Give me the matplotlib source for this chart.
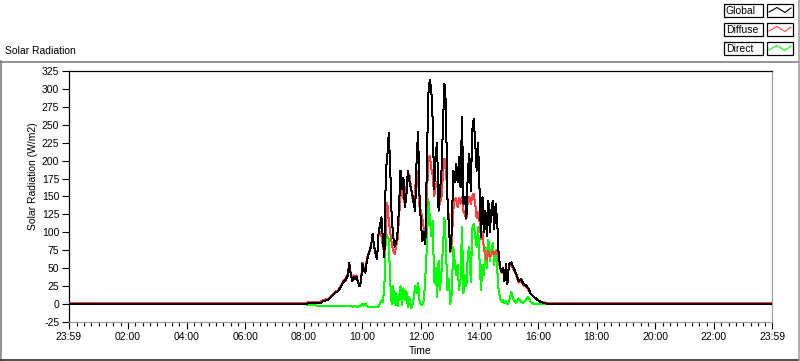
import matplotlib
matplotlib.use("Agg")
import matplotlib.pyplot as plt
from matplotlib.patches import Rectangle
from matplotlib.lines import Line2D
import numpy as np

plt.rcParams['font.family'] = ['Liberation Sans', 'DejaVu Sans']

# ---- data (minutes after midnight; -1 == 23:59 of previous day) ----
minutes = ([-1] + list(range(480, 570, 5)) + list(range(570, 901, 3))
           + list(range(905, 991, 5)) + [1439])

global_rad = ([0]
    + [0, 0.5, 1, 1, 1, 1, 1.5, 2, 4, 5, 6, 9, 13, 16, 18, 23, 30, 33]
    + [40, 57, 42, 32, 38, 35, 38, 30, 25, 30, 56, 48, 44, 60, 68, 74, 82, 98, 80, 70, 63, 98, 110, 121, 90, 65]
    + [186, 205, 238, 190, 120, 95, 80, 85, 100, 135, 186, 160, 176, 135, 150, 186, 172, 163, 154, 140, 130, 200, 240, 150, 110]
    + [88, 100, 84, 196, 293, 312, 300, 256, 160, 210, 224, 130, 158, 186, 250, 307, 280, 150, 110, 74, 100, 186, 170, 196, 170, 205]
    + [163, 261, 140, 150, 120, 186, 210, 158, 242, 258, 225, 186, 224, 160, 93, 149, 100, 130, 95, 144, 100, 130, 144, 105, 140, 116, 70, 52, 45, 50, 32, 56, 28, 55]
    + [58, 50, 42, 32, 35, 28, 26, 22, 14, 11, 8, 5, 3, 2, 1, 0.5, 0, 0]
    + [0])

diffuse_rad = ([1.5]
    + [1.5, 2, 2.5, 2.5, 2.5, 2.5, 3, 3.5, 5.5, 6.5, 7.5, 10.5, 14.5, 17.5, 19.5, 24.5, 31.5, 34.5]
    + [42, 58, 44, 34, 40, 37, 40, 32, 27, 32, 58, 50, 46, 62, 70, 76, 84, 95, 82, 72, 66, 96, 100, 95, 80, 70]
    + [100, 141, 116, 100, 85, 75, 70, 80, 90, 120, 150, 160, 148, 140, 163, 175, 182, 165, 150, 140, 160, 186, 175, 135, 130]
    + [118, 105, 98, 150, 200, 207, 190, 180, 150, 165, 170, 145, 140, 150, 180, 203, 190, 150, 120, 72, 85, 130, 145, 148, 135, 148]
    + [140, 150, 130, 125, 118, 145, 150, 140, 150, 154, 140, 120, 128, 115, 90, 100, 75, 70, 62, 74, 66, 68, 74, 70, 74, 72, 60, 50, 44, 48, 34, 52, 30, 52]
    + [55, 48, 40, 30, 32, 26, 24, 20, 14, 11, 8, 5, 3.5, 2.5, 2, 1.5, 1.5, 1.5]
    + [1.5])

direct_rad = ([0]
    + [0, -0.5, -1, -1.5, -1.5, -2, -2, -2, -2, -2.5, -2.5, -2.5, -3, -3, -3, -3, -3, -3]
    + [-3, -3, -3, -3.5, -3.5, -3, -3.5, -3.5, -3, -2, 0, -2, 1, -3, -4, -4, -4, -4, -3.5, -4, -4, -3, 0, 5, 3, 25]
    + [98, 95, 90, 30, 0, 25, -2, 15, -3, 10, 25, -2, 22, 5, 18, -4, 10, -5, -3, 8, 25, 15, 30, 5, -2]
    + [0, 5, 40, 78, 147, 120, 95, 116, 30, 50, 10, 60, 20, 45, 80, 120, 81, 20, 35, 0, 15, 80, 60, 40, 55, 20]
    + [35, 107, 15, 40, 25, 70, 80, 30, 106, 112, 95, 80, 107, 60, 20, 55, 40, 80, 50, 90, 60, 75, 85, 55, 75, 50, 20, 8, 3, 6, 1, 4, 0, 3]
    + [17, 5, 2, 8, 3, 2, 6, 10, 3, 0.5, 0, 0, 0, 0, 0, 0, 0, 0]
    + [0])

series_names = ['Global', 'Diffuse', 'Direct']
series_colors = ['#000000', '#ff4040', '#00ff00']

x_tick_minutes = [-1, 120, 240, 360, 480, 600, 720, 840, 960, 1080, 1200, 1320, 1439]
x_tick_labels = ['23:59', '02:00', '04:00', '06:00', '08:00', '10:00', '12:00',
                 '14:00', '16:00', '18:00', '20:00', '22:00', '23:59']
y_ticks = list(range(-25, 326, 25))

# ---- figure ----
W, H = 800, 361
fig = plt.figure(figsize=(W / 100, H / 100), dpi=100)
fig.patch.set_facecolor('white')

def fx(px):
    return px / W

def fy(py):
    return 1 - py / H

ax = fig.add_axes([fx(69), fy(322), fx(772) - fx(69), fy(71) - fy(322)])

ax.plot(minutes, direct_rad, color=series_colors[2], lw=0.72, zorder=2, antialiased=False)
ax.plot(minutes, diffuse_rad, color=series_colors[1], lw=0.72, zorder=3, antialiased=False)
ax.plot(minutes, global_rad, color=series_colors[0], lw=0.72, zorder=4, antialiased=False)

ax.set_xlim(-1, 1439)
ax.set_ylim(-25, 325)
ax.set_yticks(y_ticks)
ax.set_yticklabels([str(v) for v in y_ticks], fontsize=7.5)
ax.set_xticks(x_tick_minutes)
ax.set_xticklabels(x_tick_labels, fontsize=7.5)
ax.set_xticks(np.arange(0, 1440, 15), minor=True)
ax.tick_params(axis='y', direction='out', length=5, width=0.8, pad=2, colors='black')
ax.tick_params(axis='x', which='major', direction='out', length=5, width=0.8, pad=2)
ax.tick_params(axis='x', which='minor', direction='out', length=3, width=0.8)

for side in ['left', 'top']:
    ax.spines[side].set_color('black')
    ax.spines[side].set_linewidth(0.9)
for side in ['right', 'bottom']:
    ax.spines[side].set_color('#a0a0a0')
    ax.spines[side].set_linewidth(0.9)

ax.set_xlabel('Time', fontsize=7.5, labelpad=3)
ax.set_ylabel('Solar Radiation (W/m2)', fontsize=7.5)
ax.yaxis.set_label_coords(-0.044, 0.58)

# title
fig.text(fx(5), fy(51), 'Solar Radiation', ha='left', va='center', fontsize=7.5)

# outer frame
fig.add_artist(Line2D([0, 1], [fy(61.5)] * 2, color='#808080', lw=1.2))
fig.add_artist(Line2D([fx(0.6)] * 2, [fy(61), fy(361)], color='#808080', lw=1.2))
fig.add_artist(Line2D([0, 1], [fy(359.8)] * 2, color='#303030', lw=1.2))
fig.add_artist(Line2D([fx(799.4)] * 2, [fy(0), fy(361)], color='#a0a0a0', lw=1.2))

# legend (LabVIEW style plot legend)
row_tops = [4, 23, 42]
for name, col, top in zip(series_names, series_colors, row_tops):
    fig.add_artist(Rectangle((fx(724), fy(top + 13)), fx(763) - fx(724), fy(top) - fy(top + 13),
                             facecolor='white', edgecolor='black', lw=0.9))
    fig.text(fx(726), fy(top + 6.8), name, ha='left', va='center', fontsize=7.5)
    fig.add_artist(Rectangle((fx(767), fy(top + 13)), fx(793) - fx(767), fy(top) - fy(top + 13),
                             facecolor='white', edgecolor='black', lw=0.9))
    zx = [769, 777, 785, 791]
    zy = [top + 8, top + 3.5, top + 8.5, top + 4]
    fig.add_artist(Line2D([fx(v) for v in zx], [fy(v) for v in zy], color=col, lw=0.8))

fig.savefig('out.png', dpi=100)
